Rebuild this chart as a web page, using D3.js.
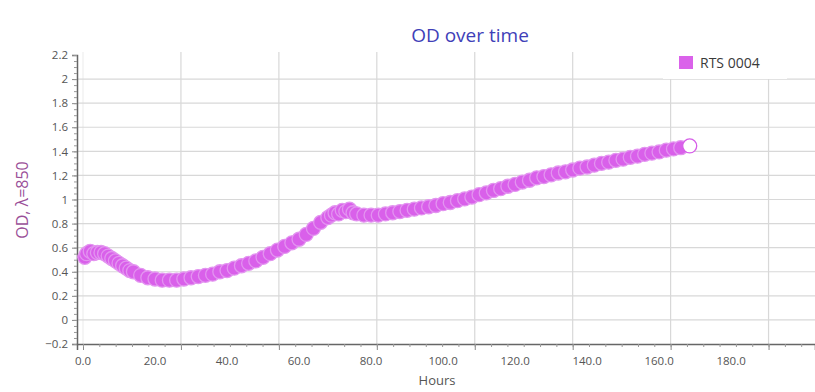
<!DOCTYPE html>
<html><head><meta charset="utf-8">
<script src="https://cdn.jsdelivr.net/npm/d3@7/dist/d3.min.js"></script>
<style>body{margin:0;background:#fff;}svg{display:block;}</style>
</head><body>
<svg id="c" width="815" height="392"></svg>
<script>
const title = "OD over time";
const seriesName = "RTS 0004";
const xLabel = "Hours";
const yLabel = "OD, \u03bb=850";
const hours = [0.5,1,2,3,4,5,6,7,8,9,10,11,12,13,14,16,18,20,22,24,26,28,30,32,34,36,38,40,42,44,46,48,50,52,54,56,58,60,62,64,66,68,69,70,71,72,73,74,75,76,78,80,82,84,86,88,90,92,94,96,98,100,102,104,106,108,110,112,114,116,118,120,122,124,126,128,130,132,134,136,138,140,142,144,146,148,150,152,154,156,158,160,162,164,166,168.5];
const od = [0.52,0.55,0.57,0.55,0.56,0.56,0.55,0.53,0.51,0.49,0.47,0.45,0.43,0.41,0.40,0.37,0.35,0.34,0.33,0.33,0.33,0.34,0.35,0.36,0.37,0.38,0.40,0.41,0.43,0.45,0.47,0.49,0.52,0.55,0.58,0.61,0.64,0.67,0.71,0.76,0.81,0.85,0.87,0.89,0.88,0.91,0.90,0.92,0.89,0.88,0.87,0.87,0.87,0.88,0.89,0.90,0.91,0.92,0.93,0.94,0.95,0.965,0.975,0.99,1.005,1.02,1.04,1.055,1.075,1.09,1.11,1.125,1.145,1.16,1.18,1.19,1.205,1.22,1.23,1.245,1.26,1.27,1.285,1.30,1.31,1.325,1.335,1.35,1.36,1.375,1.385,1.395,1.41,1.42,1.43,1.445];
const xTickValues = [0,20,40,60,80,100,120,140,160,180];
const yTickValues = [-0.2,0,0.2,0.4,0.6,0.8,1,1.2,1.4,1.6,1.8,2,2.2];
const yGridValues = [0,0.2,0.4,0.6,0.8,1,1.2,1.4,1.6,1.8,2];
const xGridStep = 27.2;

const svg = d3.select("#c");
const L = 77, R = 815, T = 52, B = 344;
const x = d3.scaleLinear().domain([-1.67, 203.3]).range([L, R]);
const y = d3.scaleLinear().domain([-0.2, 2.2]).range([B, 55]);
const font = "'Open Sans', 'DejaVu Sans', sans-serif";

// vertical grid
const xGrid = d3.range(0, 203, xGridStep);
svg.append("g").selectAll("line").data(xGrid).join("line")
  .attr("x1", d => x(d)).attr("x2", d => x(d)).attr("y1", T).attr("y2", B)
  .attr("stroke", d => d === 0 ? "#eeeeee" : "#d8d8d8").attr("stroke-width", 1.2);
// horizontal grid
svg.append("g").selectAll("line").data(yGridValues).join("line")
  .attr("x1", L).attr("x2", R).attr("y1", d => y(d)).attr("y2", d => y(d))
  .attr("stroke", "#d8d8d8").attr("stroke-width", 1.2);

// y axis
const yAxis = d3.axisLeft(y).tickValues(yTickValues).tickFormat(d3.format("")).tickSize(5).tickPadding(4);
const gy = svg.append("g").attr("transform", `translate(${L},0)`).call(yAxis);
gy.select(".domain").attr("stroke", "#666").attr("stroke-width", 1.5);
gy.selectAll(".tick line").attr("stroke", "#888");
gy.selectAll("text").attr("font-family", font).attr("font-size", 11.5).attr("fill", "#555");
svg.append("g").attr("transform", `translate(${L},0)`)
  .call(d3.axisLeft(y).tickValues(d3.range(-0.2, 2.21, 0.05)).tickFormat("").tickSize(3))
  .call(g => g.select(".domain").remove())
  .selectAll("line").attr("stroke", "#999");

// x axis
const gx = svg.append("g").attr("transform", `translate(0,${B})`)
  .call(d3.axisBottom(x).tickValues(xGrid).tickFormat("").tickSize(6));
gx.select(".domain").attr("stroke", "#666").attr("stroke-width", 1.5);
gx.selectAll(".tick line").attr("stroke", "#888");
svg.append("g").attr("transform", `translate(0,${B})`)
  .call(d3.axisBottom(x).tickValues(d3.range(0, 203, xGridStep / 6)).tickFormat("").tickSize(3))
  .call(g => g.select(".domain").remove())
  .selectAll("line").attr("stroke", "#999");
svg.append("g").selectAll("text").data(xTickValues).join("text")
  .attr("x", d => x(d)).attr("y", 365).attr("text-anchor", "middle")
  .attr("font-family", font).attr("font-size", 11.5).attr("fill", "#555")
  .text(d => d.toFixed(1));

// labels
svg.append("text").attr("x", 470).attr("y", 42).attr("text-anchor", "middle")
  .attr("font-family", font).attr("font-size", 19).attr("fill", "#4040b8").text(title);
svg.append("text").attr("x", 437).attr("y", 385).attr("text-anchor", "middle")
  .attr("font-family", font).attr("font-size", 13).attr("fill", "#555").text(xLabel);
svg.append("text").attr("transform", "translate(28,200) rotate(-90)").attr("text-anchor", "middle")
  .attr("font-family", font).attr("font-size", 16).attr("fill", "#9a4f98").text(yLabel);

// data
const pts = hours.map((h, i) => ({h, v: od[i], last: i === hours.length - 1}));
svg.append("g").selectAll("circle").data(pts).join("circle")
  .attr("cx", d => x(d.h)).attr("cy", d => y(d.v)).attr("r", 7)
  .attr("fill", d => d.last ? "#ffffff" : "#d960ea")
  .attr("stroke", d => d.last ? "#d65ee8" : "#e394f0").attr("stroke-width", 1.3);

// legend
const lg = svg.append("g");
lg.append("rect").attr("x", 663).attr("y", 46).attr("width", 124).attr("height", 33).attr("fill", "#fff");
lg.append("rect").attr("x", 679).attr("y", 56).attr("width", 14).attr("height", 13).attr("fill", "#da62ea");
lg.append("text").attr("x", 700).attr("y", 68).attr("font-family", font).attr("font-size", 14)
  .attr("fill", "#3a3a3a").text(seriesName);
</script>
</body></html>
